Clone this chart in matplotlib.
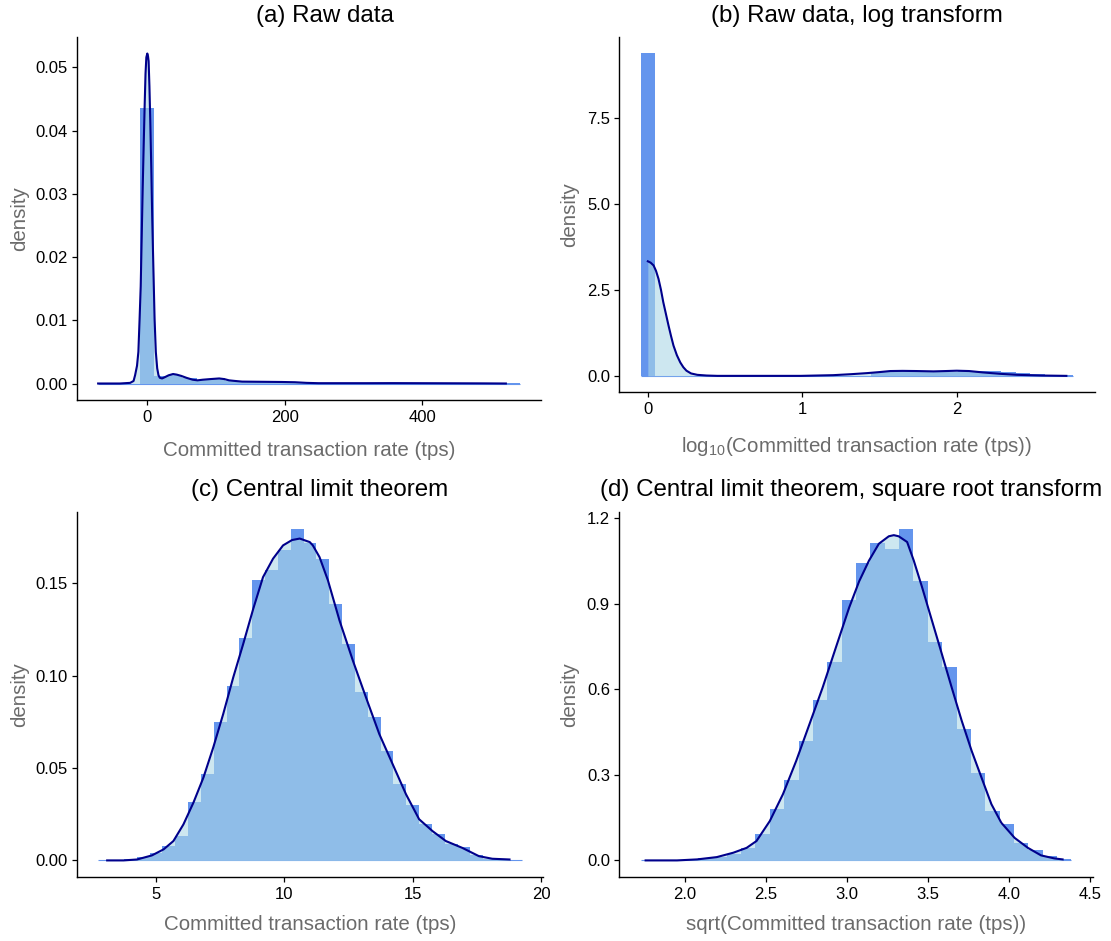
import matplotlib
matplotlib.use('Agg')
import matplotlib.pyplot as plt
import numpy as np

plt.rcParams['font.family'] = ['Liberation Sans', 'DejaVu Sans']
plt.rcParams['mathtext.fontset'] = 'custom'
plt.rcParams['mathtext.rm'] = 'Liberation Sans'

W, H = 1111, 941

# (a) raw data
a_bin_start = -71.65
a_bin_width = 20.47
a_hist = [0, 0, 0, 0.0436, 0.0012, 0.0013, 0.0008, 0.0006, 0.0008, 0.0004,
          0.0003, 0.0002, 0.0002, 0.0001, 0.0001, 0.00005, 0.00005, 0.00005,
          0.00003, 0.00003, 0.00003, 0.00003, 0.00003, 0.00003, 0.00003,
          0.00003, 0.00002, 0.00002, 0.00002, 0.00002]
a_dens_x = [-71.6, -40, -25, -20, -17.8, -15, -13, -11.3, -9.6, -8.2, -6.7,
            -5.2, -3.8, -2.6, -1.4, 0, 1.0, 1.9, 3.1, 4.3, 5.8, 7.2, 8.9,
            10.6, 12.4, 14.4, 16.3, 18.2, 21.5, 25.5, 31, 37.5, 43, 49.5, 57,
            66, 73, 80.7, 92, 104.7, 112, 119, 128, 138, 157, 177, 196, 215,
            232, 249, 285, 321, 357, 393, 430, 460, 490, 522]
a_dens_y = [0, 0, 0.0001, 0.0004, 0.0013, 0.0028, 0.005, 0.010, 0.0154,
            0.023, 0.031, 0.038, 0.0442, 0.049, 0.0516, 0.0522, 0.0518, 0.051,
            0.047, 0.0416, 0.034, 0.026, 0.018, 0.0102, 0.005, 0.0024, 0.0013,
            0.0009, 0.0008, 0.001, 0.0013, 0.0015, 0.0014, 0.0012, 0.0009,
            0.0006, 0.0005, 0.0006, 0.0007, 0.0008, 0.0007, 0.0005, 0.0004,
            0.0003, 0.00028, 0.00026, 0.00024, 0.0002, 0.0001, 0.00005,
            0.00005, 0.00005, 0.00006, 0.00005, 0.00004, 0.00003, 0.00002, 0]

# (b) log transform
b_bin_start = -0.0467
b_bin_width = 0.0934
b_hist = [9.38, 0, 0, 0, 0, 0, 0, 0, 0, 0, 0, 0, 0, 0, 0, 0,
          0.12, 0.13, 0.13, 0.14, 0.13, 0.12, 0.13, 0.14, 0.13, 0.10,
          0.07, 0.05, 0.03, 0.02]
b_dens_x = [0, 0.018, 0.037, 0.053, 0.069, 0.085, 0.10, 0.117, 0.134, 0.15,
            0.166, 0.188, 0.21, 0.23, 0.25, 0.28, 0.32, 0.38, 0.45, 0.7, 0.99,
            1.2, 1.32, 1.42, 1.5, 1.57, 1.65, 1.74, 1.85, 1.93, 2.0, 2.08,
            2.17, 2.28, 2.39, 2.55, 2.71]
b_dens_y = [3.33, 3.29, 3.21, 3.05, 2.82, 2.50, 2.14, 1.80, 1.46, 1.16,
            0.88, 0.60, 0.39, 0.25, 0.15, 0.07, 0.03, 0.01, 0.0, 0.0, 0.0,
            0.02, 0.05, 0.08, 0.11, 0.14, 0.145, 0.14, 0.13, 0.14, 0.15,
            0.14, 0.10, 0.06, 0.03, 0.01, 0.0]

# (c) central limit theorem
c_bin_start = 2.75
c_bin_width = 0.5
c_hist = [0, 0, 0.0005, 0.0018, 0.0041, 0.0078, 0.0132, 0.0317, 0.0467,
          0.0747, 0.0946, 0.1203, 0.1516, 0.1574, 0.1683, 0.1797, 0.1719,
          0.1634, 0.139, 0.1173, 0.0914, 0.0778, 0.0593, 0.0413, 0.030,
          0.0199, 0.0144, 0.0087, 0.0072, 0.0029, 0.0005, 0.0008, 0.0003]
c_dens_x = [3.10, 3.74, 4.26, 4.84, 5.3, 5.68, 6.07, 6.46, 6.85, 7.23, 7.62,
            8.01, 8.40, 8.79, 9.17, 9.56, 9.95, 10.3, 10.6, 10.99, 11.11,
            11.37, 11.70, 12.15, 12.67, 13.18, 13.70, 14.22, 14.74, 15.25,
            15.77, 16.29, 16.93, 17.58, 18.10, 18.77]
c_dens_y = [0, 0, 0.0005, 0.0027, 0.006, 0.0105, 0.0195, 0.0313, 0.0449,
            0.0611, 0.0793, 0.0991, 0.1173, 0.1363, 0.1534, 0.1634, 0.1706,
            0.1735, 0.1743, 0.1724, 0.1706, 0.1643, 0.1516, 0.1299, 0.1082,
            0.0883, 0.0684, 0.0521, 0.0358, 0.0223, 0.0159, 0.0105, 0.0068,
            0.0023, 0.0009, 0.0005]

# (d) square root transform
d_bin_start = 1.7277
d_bin_width = 0.0886
d_hist = [0.001, 0, 0, 0.003, 0.007, 0.0116, 0.023, 0.044, 0.0934, 0.179,
          0.281, 0.419, 0.563, 0.697, 0.914, 1.042, 1.113, 1.090, 1.163,
          0.981, 0.764, 0.679, 0.460, 0.308, 0.173, 0.129, 0.062, 0.036,
          0.015, 0.0035]
d_dens_x = [1.759, 1.953, 2.076, 2.198, 2.30, 2.382, 2.443, 2.525, 2.606,
            2.688, 2.770, 2.851, 2.933, 3.015, 3.076, 3.137, 3.198, 3.259,
            3.290, 3.320, 3.372, 3.413, 3.464, 3.525, 3.586, 3.647, 3.709,
            3.770, 3.831, 3.892, 3.953, 4.035, 4.117, 4.198, 4.280, 4.331]
d_dens_y = [0, 0, 0.0035, 0.0116, 0.027, 0.044, 0.068, 0.138, 0.232, 0.349,
            0.478, 0.606, 0.747, 0.887, 0.978, 1.051, 1.110, 1.136, 1.140,
            1.136, 1.116, 1.051, 0.958, 0.841, 0.724, 0.606, 0.489, 0.384,
            0.290, 0.197, 0.132, 0.079, 0.044, 0.0176, 0.007, 0.0035]

xlab = 'Committed transaction rate (tps)'
panels = [
    dict(box=(77, 37, 541, 400), start=a_bin_start, width=a_bin_width,
         hist=a_hist, dx=a_dens_x, dy=a_dens_y,
         xticks=[0, 200, 400], xfmt='%d',
         yticks=[0, 0.01, 0.02, 0.03, 0.04, 0.05], yfmt='%.2f',
         title='(a) Raw data', tpos=(325, 16),
         xlabel=xlab, xlpos=(309, 451)),
    dict(box=(619, 37, 1095, 392), start=b_bin_start, width=b_bin_width,
         hist=b_hist, dx=b_dens_x, dy=b_dens_y,
         xticks=[0, 1, 2], xfmt='%d',
         yticks=[0, 2.5, 5.0, 7.5], yfmt='%.1f',
         title='(b) Raw data, log transform', tpos=(857, 16),
         xlabel=r'log$_{\mathregular{10}}$(Committed transaction rate (tps))',
         xlpos=(857, 447)),
    dict(box=(77, 512, 543, 877), start=c_bin_start, width=c_bin_width,
         hist=c_hist, dx=c_dens_x, dy=c_dens_y,
         xticks=[5, 10, 15, 20], xfmt='%d',
         yticks=[0, 0.05, 0.10, 0.15], yfmt='%.2f',
         title='(c) Central limit theorem', tpos=(320, 490),
         xlabel=xlab, xlpos=(310, 924)),
    dict(box=(619, 512, 1093, 877), start=d_bin_start, width=d_bin_width,
         hist=d_hist, dx=d_dens_x, dy=d_dens_y,
         xticks=[2.0, 2.5, 3.0, 3.5, 4.0, 4.5], xfmt='%.1f',
         yticks=[0, 0.3, 0.6, 0.9, 1.2], yfmt='%.1f',
         title='(d) Central limit theorem, square root transform',
         tpos=(851, 490),
         xlabel='sqrt(Committed transaction rate (tps))', xlpos=(856, 924)),
]

fig = plt.figure(figsize=(W / 100, H / 100), dpi=100)

for p in panels:
    x0, y0, x1, y1 = p['box']
    ax = fig.add_axes([x0 / W, 1 - y1 / H, (x1 - x0) / W, (y1 - y0) / H])
    n = len(p['hist'])
    edges = p['start'] + p['width'] * np.arange(n + 1)
    ax.bar(edges[:-1], p['hist'], width=p['width'], align='edge',
           color='#6495ED', linewidth=0, zorder=1)
    ax.hlines(0, edges[0], edges[-1], color='#6495ED', lw=0.8, zorder=1)
    ax.fill_between(p['dx'], p['dy'], 0, color='#ADD8E6', alpha=0.6,
                    linewidth=0, zorder=2)
    ax.plot(p['dx'], p['dy'], color='#00008B', lw=1.5, zorder=3,
            solid_joinstyle='round')

    xmin = min(edges[0], p['dx'][0])
    xmax = max(edges[-1], p['dx'][-1])
    ymax = max(max(p['hist']), max(p['dy']))
    ax.set_xlim(xmin - 0.05 * (xmax - xmin), xmax + 0.05 * (xmax - xmin))
    ax.set_ylim(-0.05 * ymax, 1.05 * ymax)

    ax.set_xticks(p['xticks'])
    ax.set_xticklabels([p['xfmt'] % v for v in p['xticks']])
    ax.set_yticks(p['yticks'])
    ax.set_yticklabels([p['yfmt'] % v for v in p['yticks']])
    ax.tick_params(length=3.5, width=0.9, labelsize=12, pad=3, colors='black')
    ax.tick_params(axis='x', pad=4)
    for s in ['top', 'right']:
        ax.spines[s].set_visible(False)
    for s in ['left', 'bottom']:
        ax.spines[s].set_linewidth(1.0)
        ax.spines[s].set_color('black')

    fig.text(p['tpos'][0] / W, 1 - p['tpos'][1] / H, p['title'],
             ha='center', va='center', fontsize=17.4, color='black')
    fig.text(p['xlpos'][0] / W, 1 - p['xlpos'][1] / H, p['xlabel'],
             ha='center', va='center', fontsize=14.8, color='#6b6b6b')
    ylx = 20 if x0 < 300 else 570
    fig.text(ylx / W, 1 - ((y0 + y1) / 2) / H, 'density', rotation=90,
             ha='center', va='center', fontsize=14.8, color='#6b6b6b')

fig.savefig('out.png', dpi=100)
